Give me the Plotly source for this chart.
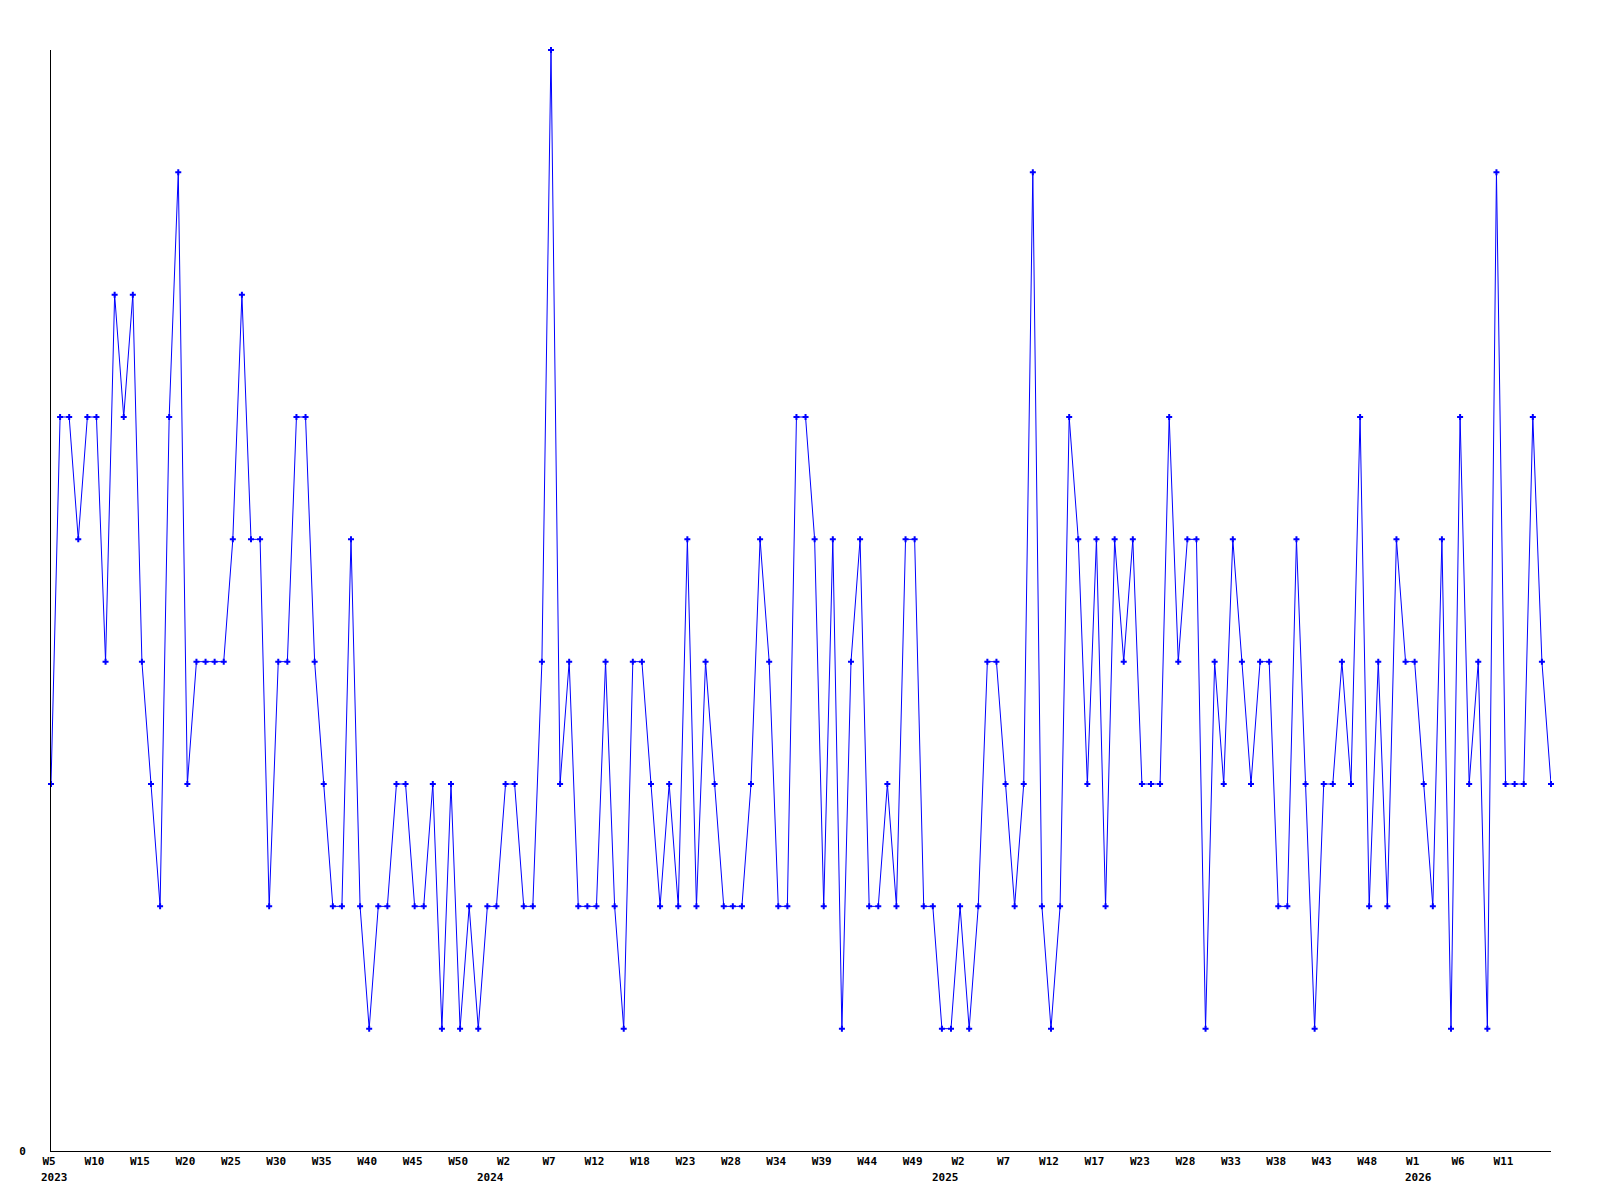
import plotly.graph_objects as go

# weekly values, 2023 W5 .. 2026
values = [3, 6, 6, 5, 6, 6, 4, 7, 6, 7, 4, 3, 2, 6, 8, 3, 4, 4, 4, 4, 5, 7, 5, 5, 2, 4, 4, 6,
          6, 4, 3, 2, 2, 5, 2, 1, 2, 2, 3, 3, 2, 2, 3, 1, 3, 1, 2, 1, 2, 2, 3, 3, 2, 2, 4, 9,
          3, 4, 2, 2, 2, 4, 2, 1, 4, 4, 3, 2, 3, 2, 5, 2, 4, 3, 2, 2, 2, 3, 5, 4, 2, 2, 6,
          6, 5, 2, 5, 1, 4, 5, 2, 2, 3, 2, 5, 5, 2, 2, 1, 1, 2, 1, 2, 4, 4, 3, 2, 3, 8, 2, 1,
          2, 6, 5, 3, 5, 2, 5, 4, 5, 3, 3, 3, 6, 4, 5, 5, 1, 4, 3, 5, 4, 3, 4, 4, 2, 2, 5,
          3, 1, 3, 3, 4, 3, 6, 2, 4, 2, 5, 4, 4, 3, 2, 5, 1, 6, 3, 4, 1, 8, 3, 3, 3, 6, 4, 3]

week_labels = ["W5", "W10", "W15", "W20", "W25", "W30", "W35", "W40", "W45", "W50",
               "W2", "W7", "W12", "W18", "W23", "W28", "W34", "W39", "W44", "W49",
               "W2", "W7", "W12", "W17", "W23", "W28", "W33", "W38", "W43", "W48",
               "W1", "W6", "W11"]
week_tick_step = 5

year_labels = ["2023", "2024", "2025", "2026"]
year_label_index = [0, 48, 98, 150]

x = list(range(len(values)))
font = dict(family="DejaVu Sans Mono", size=11, color="black", weight="bold")

fig = go.Figure()
fig.add_trace(go.Scatter(
    x=x, y=values,
    mode="lines+markers",
    line=dict(color="#0000ff", width=1),
    marker=dict(color="#0000ff", symbol="cross", size=5, line=dict(width=0)),
    cliponaxis=False,
    showlegend=False,
))

for lbl, idx in zip(year_labels, year_label_index):
    fig.add_annotation(x=idx, y=0, xref="x", yref="paper", text=lbl, showarrow=False,
                       xanchor="left", yanchor="top", xshift=-12, yshift=-18, font=font)

fig.update_xaxes(
    range=[0, len(values) - 1],
    tickmode="array",
    tickvals=x[::week_tick_step][:len(week_labels)],
    ticktext=week_labels,
    showline=True, linecolor="black", linewidth=1,
    showgrid=False, zeroline=False, ticks="",
    ticklabelshift=-2,
    tickfont=font,
)
fig.update_yaxes(
    range=[0, 9],
    tickmode="array", tickvals=[0], ticktext=["0"],
    showline=True, linecolor="black", linewidth=1,
    showgrid=False, zeroline=False, ticks="",
    ticklabelstandoff=22,
    tickfont=font,
)
# page body adds ~7px offset, so shift margins to line the plot area up
fig.update_layout(
    width=1600, height=1200,
    margin=dict(l=43, r=57, t=42, b=57),
    plot_bgcolor="white", paper_bgcolor="white",
)

fig.write_html("out.html")
